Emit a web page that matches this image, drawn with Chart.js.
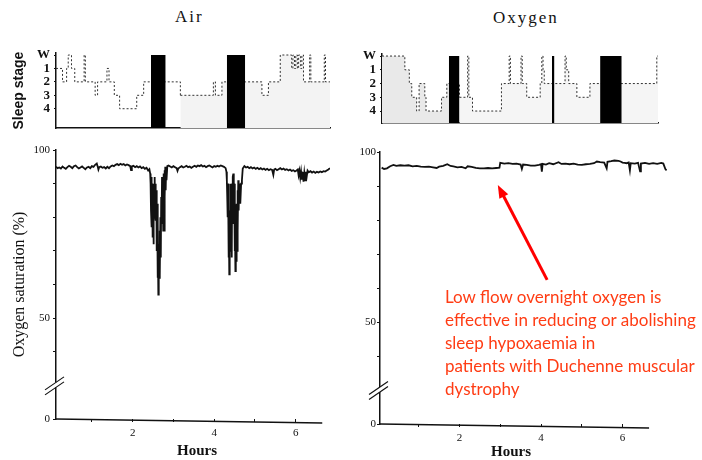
<!DOCTYPE html>
<html>
<head>
<meta charset="utf-8">
<script src="https://cdn.jsdelivr.net/npm/chart.js@4.4.1/dist/chart.umd.min.js"></script>
<style>
    body { margin: 0; background: #fff; width: 702px; height: 460px; position: relative; overflow: hidden; }
    canvas { position: absolute; }
    .ttl { position: absolute; font-family: "Liberation Serif", serif; font-size: 17px; line-height: 20px; letter-spacing: 2px; color: #111; }
    .hrs { position: absolute; font-family: "Liberation Serif", serif; font-weight: bold; font-size: 15px; line-height: 17px; color: #111; }
    #note { position: absolute; left: 445px; top: 285px; font-family: Lato, "Open Sans", sans-serif; font-size: 17px; line-height: 23px; color: #ff3c14; white-space: nowrap; }
</style>
</head>
<body>
<div class="ttl" style="left:175px; top:7px">Air</div>
<div class="ttl" style="left:493px; top:8px">Oxygen</div>

<canvas id="airStage" width="345" height="100" style="left:0; top:40px"></canvas>
<canvas id="oxyStage" width="357" height="100" style="left:345px; top:40px"></canvas>
<canvas id="airSat" width="345" height="325" style="left:0; top:135px"></canvas>
<canvas id="oxySat" width="357" height="325" style="left:345px; top:135px"></canvas>

<div class="hrs" style="left:177px; top:442px">Hours</div>
<div class="hrs" style="left:491px; top:443px">Hours</div>

<div id="note">Low flow overnight oxygen is<br>effective in reducing or abolishing<br>sleep hypoxaemia in<br>patients with Duchenne muscular<br>dystrophy</div>

<script>
// ticks
const hourTicks = [1, 2, 3, 4, 5, 6];
const hourLabels = [2, 4, 6];
const stageTicks = [0, 1, 2, 3, 4];
const stageNames = ['W', '1', '2', '3', '4'];
const satTicks = [20, 40, 50, 60, 70, 80, 90, 100];
const satLabels = { 20: '0', 50: '50', 100: '100' };
const breakAt = 30;      // "//" on the y axis, value 20 is shown as 0

// sleep stages: [hour the stage starts, stage] (0 = W)
const airStages = [[0.12,1],[0.28,2],[0.38,1],[0.42,0],[0.50,1],[0.58,2],[0.81,0],[0.84,2],[1.08,3],[1.14,2],
    [1.37,1],[1.42,2],[1.55,3],[1.68,4],[2.10,3],[2.27,2],[3.17,3],[3.98,2],[4.03,3],[4.19,2],[4.76,2],
    [5.17,3],[5.33,2],[5.62,0],[5.90,1],[5.93,0],[5.97,1],[6.00,0],[6.04,1],[6.07,0],[6.12,1],[6.15,0],
    [6.19,2],[6.34,0],[6.37,2],[6.70,0],[6.73,2],[6.84,2]];
const oxyStages = [[0.10,0],[0.66,1],[0.77,2],[0.83,3],[0.95,4],[1.01,2],[1.15,3],[1.18,4],[1.56,3],[1.69,2],
    [2.00,3],[2.20,0],[2.23,3],[2.32,4],[3.03,2],[3.22,0],[3.25,2],[3.51,0],[3.54,2],[3.65,3],[3.98,2],
    [4.02,0],[4.05,1],[4.08,2],[4.59,0],[4.62,1],[4.68,2],[4.88,3],[5.20,2],[6.84,0],[6.87,0]];

// black blocks (REM): [start, end] in hours
const airRem = [[2.45, 2.81], [4.31, 4.76]];
const oxyRem = [[1.74, 2.00], [4.27, 4.33], [5.45, 5.98]];

// oxygen saturation traces: [hour, %]
const airSat = [[0.12,95.0],[0.16,94.6],[0.20,94.8],[0.24,94.5],[0.28,95.1],[0.32,94.7],[0.36,94.4],[0.40,94.9],
    [0.44,95.3],[0.48,95.0],[0.52,94.6],[0.56,95.2],[0.60,95.4],[0.64,94.9],[0.68,94.5],[0.72,94.8],[0.76,95.1],
    [0.80,94.7],[0.84,94.3],[0.88,94.8],[0.92,95.0],[0.96,94.6],[1.00,95.2],[1.04,95.0],[1.08,95.6],[1.12,96.0],
    [1.14,95.2],[1.16,94.2],[1.18,94.9],[1.22,95.1],[1.26,94.7],[1.30,94.9],[1.34,94.5],[1.38,95.0],[1.42,94.6],
    [1.46,95.1],[1.50,95.4],[1.54,95.2],[1.58,95.6],[1.62,95.8],[1.66,95.5],[1.70,95.9],[1.74,95.6],[1.78,95.8],
    [1.82,95.4],[1.86,95.7],[1.90,95.5],[1.94,95.2],[1.96,94.0],[1.98,95.1],[2.02,95.3],[2.06,94.9],[2.10,95.2],
    [2.14,94.8],[2.18,95.1],[2.22,94.6],[2.26,94.9],[2.30,94.4],[2.34,94.7],[2.38,93.9],[2.41,94.3],[2.43,93.0],
    [2.44,90],[2.45,82],[2.46,92],[2.47,77],[2.48,90],[2.49,74],[2.50,88],[2.51,72],[2.52,90],[2.53,80],[2.54,92],
    [2.55,81],[2.56,90],[2.57,79],[2.58,88],[2.59,70],[2.60,84],[2.61,62],[2.62,78],[2.63,57],[2.64,72],[2.65,62],
    [2.66,76],[2.67,63],[2.68,80],[2.69,68],[2.70,86],[2.71,78],[2.72,92],[2.73,80],[2.74,91],[2.75,76],[2.76,93],
    [2.77,76],[2.78,94],[2.79,86],[2.80,95],[2.81,88],[2.82,94],[2.83,91],[2.85,95.2],
    [2.88,95.4],[2.92,95.1],[2.96,94.8],[3.00,95.2],[3.04,94.9],[3.08,94.6],[3.10,93.8],[3.12,94.5],[3.16,94.9],
    [3.20,95.2],[3.24,94.8],[3.28,95.0],[3.32,95.3],[3.36,94.9],[3.40,95.1],[3.44,94.7],[3.48,95.0],[3.52,95.3],
    [3.56,95.0],[3.60,95.4],[3.64,95.2],[3.68,95.5],[3.72,95.1],[3.76,95.3],[3.80,94.9],[3.84,95.2],[3.88,95.4],
    [3.92,95.1],[3.96,94.8],[4.00,95.2],[4.04,95.0],[4.08,95.3],[4.12,95.1],[4.16,95.4],[4.20,95.2],[4.24,95.0],
    [4.28,94.6],[4.30,93.5],
    [4.31,91],[4.32,86],[4.33,80],[4.34,90],[4.35,68],[4.36,85],[4.37,63],[4.38,82],[4.39,70],[4.40,90],[4.41,72],
    [4.42,88],[4.43,68],[4.44,90],[4.45,78],[4.46,92],[4.47,93],[4.48,80],[4.49,90],[4.50,70],[4.51,84],[4.52,64],
    [4.53,80],[4.54,67],[4.55,84],[4.56,70],[4.57,88],[4.58,76],[4.59,91],[4.60,82],[4.61,90],[4.62,86],[4.63,88],
    [4.64,84],[4.66,90],[4.68,91],[4.70,94.5],
    [4.74,95.2],[4.78,94.8],[4.82,95.0],[4.86,94.6],[4.90,94.9],[4.94,94.5],[4.98,94.8],[5.02,94.4],[5.06,94.7],
    [5.10,94.3],[5.14,94.6],[5.18,94.2],[5.22,94.5],[5.26,94.1],[5.30,94.4],[5.34,94.0],[5.38,94.3],[5.42,94.1],
    [5.45,92.6],[5.47,94.2],[5.50,94.4],[5.54,94.0],[5.58,94.3],[5.62,94.6],[5.66,94.2],[5.70,94.5],[5.74,94.1],
    [5.78,94.3],[5.82,93.9],[5.86,94.2],[5.90,93.8],[5.94,94.0],[5.98,93.6],[6.02,93.9],[6.05,94.2],[6.07,92.5],
    [6.09,93.8],[6.11,91.8],[6.13,93.6],[6.15,91.2],[6.17,93.4],[6.19,90.6],[6.21,93.2],[6.23,91.0],[6.25,93.5],
    [6.27,92.2],[6.29,93.9],[6.32,93.4],[6.36,93.7],[6.40,93.3],[6.44,93.6],[6.48,93.2],[6.52,93.5],[6.56,93.3],
    [6.60,93.6],[6.64,93.4],[6.68,93.7],[6.72,93.6],[6.76,93.9],[6.80,94.2],[6.84,94.6]];

const oxySat = [[0.09,95.4],[0.15,95.0],[0.22,95.2],[0.30,95.8],[0.38,96.2],[0.45,95.9],[0.55,96.1],[0.65,96.0],
    [0.75,96.1],[0.85,95.8],[0.95,95.9],[1.05,95.7],[1.15,95.6],[1.25,95.7],[1.35,95.5],[1.44,95.3],[1.50,95.7],
    [1.60,95.9],[1.70,96.4],[1.78,95.9],[1.85,95.8],[1.95,95.5],[2.05,95.6],[2.15,95.2],[2.20,95.8],[2.30,95.6],
    [2.40,95.3],[2.50,95.2],[2.60,95.2],[2.70,95.3],[2.80,95.2],[2.90,95.3],[2.98,95.4],[3.00,96.8],[3.10,96.6],
    [3.20,96.7],[3.30,96.5],[3.40,96.6],[3.50,96.3],[3.53,95.0],[3.56,96.3],[3.65,96.2],[3.75,96.0],[3.85,96.0],
    [3.95,96.2],[4.00,96.4],[4.02,94.2],[4.04,96.5],[4.12,96.3],[4.20,96.7],[4.30,96.4],[4.43,97.0],[4.50,96.5],
    [4.60,96.6],[4.70,96.4],[4.80,96.6],[4.90,96.3],[5.00,96.2],[5.10,96.4],[5.20,96.5],[5.30,96.7],[5.37,97.2],
    [5.45,97.0],[5.55,96.9],[5.61,95.2],[5.63,97.1],[5.72,97.3],[5.80,97.5],[5.90,97.4],[5.95,97.2],[6.00,96.9],
    [6.05,96.8],[6.10,96.7],[6.15,96.9],[6.18,94.6],[6.20,96.7],[6.30,96.6],[6.38,96.8],[6.43,94.3],[6.45,96.6],
    [6.55,96.8],[6.65,96.5],[6.75,96.7],[6.85,96.5],[6.95,96.8],[7.00,96.6],[7.05,95.0],[7.08,94.6]];

// red arrow of the note: [hour, %]
const arrowTail = [4.15, 62.4];
const arrowHead = [2.94, 90.3];

Chart.defaults.font.family = '"Liberation Serif", serif';
Chart.defaults.color = '#111';

const pts = arr => arr.map(p => ({ x: p[0], y: p[1] }));

// extra bits drawn on top: short slanted x axis, "//" break, arrow
const decor = {
    id: 'decor',
    afterDraw(chart, args, opts) {
        const { ctx, chartArea: a, scales: { x, y } } = chart;
        ctx.save();
        if (opts.axisEnd) {
            ctx.strokeStyle = '#111';
            ctx.lineWidth = 1.6;
            ctx.beginPath();
            ctx.moveTo(a.left, a.bottom);
            ctx.lineTo(x.getPixelForValue(opts.axisEnd), a.bottom + 4);
            ctx.stroke();
        }
        if (opts.breakAt) {
            const by = y.getPixelForValue(opts.breakAt);
            ctx.fillStyle = '#fff';
            ctx.fillRect(a.left - 2, by - 3, 4, 5);
            ctx.strokeStyle = '#111';
            ctx.lineWidth = 1.2;
            [-2.5, 2.5].forEach(d => {
                ctx.beginPath();
                ctx.moveTo(a.left - 11, by + 7 + d);
                ctx.lineTo(a.left + 8, by - 6 + d);
                ctx.stroke();
            });
        }
        if (opts.arrow) {
            const [t, h] = opts.arrow;
            const x0 = x.getPixelForValue(t[0]), y0 = y.getPixelForValue(t[1]);
            const x1 = x.getPixelForValue(h[0]), y1 = y.getPixelForValue(h[1]);
            const ang = Math.atan2(y1 - y0, x1 - x0);
            ctx.strokeStyle = '#ff0000';
            ctx.fillStyle = '#ff0000';
            ctx.lineWidth = 3;
            ctx.beginPath();
            ctx.moveTo(x0, y0);
            ctx.lineTo(x1 - 9 * Math.cos(ang), y1 - 9 * Math.sin(ang));
            ctx.stroke();
            ctx.beginPath();
            ctx.moveTo(x1, y1);
            ctx.lineTo(x1 - 13 * Math.cos(ang) + 5 * Math.sin(ang), y1 - 13 * Math.sin(ang) - 5 * Math.cos(ang));
            ctx.lineTo(x1 - 13 * Math.cos(ang) - 5 * Math.sin(ang), y1 - 13 * Math.sin(ang) + 5 * Math.cos(ang));
            ctx.closePath();
            ctx.fill();
        }
        ctx.restore();
    }
};

function stageChart(id, stages, rem, xr, yMax, pad, yWidth, shade, withTitle) {
    const datasets = rem.map(r => ({
        data: [{ x: r[0], y: 0 }, { x: r[1], y: 0 }],
        borderWidth: 0, pointRadius: 0, fill: 'start', backgroundColor: '#000'
    }));
    datasets.push({
        data: pts(stages),
        stepped: 'before',
        borderColor: '#333', borderWidth: 1, borderDash: [2, 2],
        pointRadius: 0,
        fill: 'start',
        backgroundColor: '#f2f2f2',
        segment: { backgroundColor: c => shade(c.p0.parsed.x) }
    });
    new Chart(document.getElementById(id), {
        type: 'line',
        data: { datasets },
        options: {
            responsive: false, animation: false,
            layout: { padding: pad },
            plugins: { legend: { display: false }, tooltip: { enabled: false } },
            scales: {
                x: {
                    type: 'linear', min: xr[0], max: xr[1],
                    ticks: { display: false },
                    grid: { display: false },
                    border: { color: '#111', width: 1.5 },
                    afterFit: s => { s.height = 0; }
                },
                y: {
                    type: 'linear', reverse: true, min: -0.15, max: yMax,
                    afterBuildTicks: s => { s.ticks = stageTicks.map(v => ({ value: v })); },
                    ticks: { callback: v => stageNames[v], font: { size: 13, weight: 'bold' }, padding: 4, autoSkip: false },
                    grid: { drawOnChartArea: false, tickLength: 2, color: '#111' },
                    border: { color: '#111', width: 1.5 },
                    title: {
                        display: withTitle, text: 'Sleep stage',
                        font: { family: '"Liberation Sans", Arial, sans-serif', size: 14, weight: 'bold' },
                        padding: { top: 11, bottom: 0 }
                    },
                    afterFit: s => { s.width = yWidth; }
                }
            }
        }
    });
}

function satChart(id, trace, xr, pad, yWidth, tickPad, withTitle, arrow) {
    new Chart(document.getElementById(id), {
        type: 'line',
        data: {
            datasets: [{
                data: pts(trace),
                borderColor: '#111', borderWidth: 1.8, pointRadius: 0, tension: 0, fill: false
            }]
        },
        options: {
            responsive: false, animation: false,
            layout: { padding: pad },
            plugins: {
                legend: { display: false }, tooltip: { enabled: false },
                decor: { axisEnd: 6.65, breakAt: breakAt, arrow: arrow }
            },
            scales: {
                x: {
                    type: 'linear', min: xr[0], max: xr[1],
                    afterBuildTicks: s => { s.ticks = hourTicks.map(v => ({ value: v })); },
                    ticks: { callback: v => hourLabels.includes(v) ? String(v) : '', font: { size: 11 }, padding: 5, maxRotation: 0, autoSkip: false },
                    grid: { drawOnChartArea: false, tickLength: 3, color: '#111' },
                    border: { display: false },
                    afterFit: s => { s.height = 20; }
                },
                y: {
                    type: 'linear', min: 20, max: 100,
                    afterBuildTicks: s => { s.ticks = satTicks.map(v => ({ value: v })); },
                    ticks: { callback: v => satLabels[v] || '', font: { size: 11 }, padding: tickPad, autoSkip: false },
                    grid: { drawOnChartArea: false, tickLength: 3, color: '#111' },
                    border: { color: '#111', width: 1.5 },
                    title: {
                        display: withTitle, text: 'Oxygen saturation (%)',
                        font: { size: 16 }, padding: { top: 10, bottom: 0 }
                    },
                    afterFit: s => { s.width = yWidth; }
                }
            }
        },
        plugins: [decor]
    });
}

stageChart('airStage', airStages, airRem, [0.12, 6.84], 5.45,
    { top: 13, right: 15, bottom: 10, left: 0 }, 56, x => x >= 2.8 ? '#f3f3f3' : 'rgba(0,0,0,0)', true);
stageChart('oxyStage', oxyStages, oxyRem, [0.10, 6.87], 4.87,
    { top: 14, right: 44, bottom: 17, left: 0 }, 37, x => x < 1.74 ? '#e9e9e9' : '#f5f5f5', false);
satChart('airSat', airSat, [0.12, 6.84], { top: 15, right: 15, bottom: 21, left: 0 }, 56, 3, true, null);
satChart('oxySat', oxySat, [0.05, 7.09], { top: 17, right: 35, bottom: 16, left: 0 }, 35, 1, false, [arrowTail, arrowHead]);
</script>
</body>
</html>
